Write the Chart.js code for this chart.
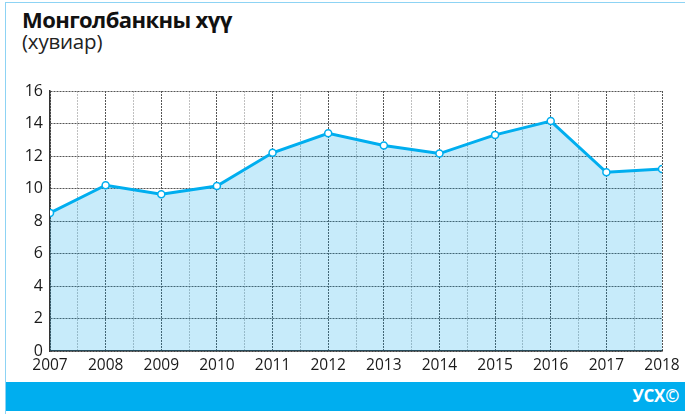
<!DOCTYPE html>
<html lang="mn">
<head>
<meta charset="UTF-8">
<title>Монголбанкны хүү</title>
<script src="https://cdn.jsdelivr.net/npm/chart.js@4.4.1/dist/chart.umd.min.js"></script>
<style>
  * { margin: 0; padding: 0; box-sizing: border-box; }
  body {
    width: 685px;
    height: 414px;
    background: #fff;
    overflow: hidden;
    position: relative;
    font-family: "Open Sans", sans-serif;
  }
  .frame {
    position: absolute;
    left: 5px; top: 2px; right: 0; bottom: 0;
    border-left: 1.5px solid #8dd3f4;
    border-top: 1.5px solid #8dd3f4;
  }
  .title {
    position: absolute;
    left: 22px; top: 4px;
    font-size: 22px; font-weight: 700; color: #111;
    letter-spacing: -0.6px;
  }
  .subtitle {
    position: absolute;
    left: 22px; top: 27px;
    font-size: 20.5px; color: #222;
    letter-spacing: -0.2px;
  }
  .footer {
    position: absolute;
    left: 6px; right: 0; top: 382px; height: 29px;
    background: #00aeef;
  }
  .footer span {
    position: absolute;
    right: 6px; top: 2px;
    color: #fff; font-weight: 700; font-size: 17px;
    letter-spacing: -0.3px;
  }
  canvas { position: absolute; left: 0; top: 0; }
</style>
</head>
<body>
  <div class="frame"></div>
  <div class="title">Монголбанкны хүү</div>
  <div class="subtitle">(хувиар)</div>
  <div class="footer"><span>УСХ©</span></div>
  <canvas id="chart" width="685" height="414"></canvas>
<script>
  const years = [2007, 2008, 2009, 2010, 2011, 2012, 2013, 2014, 2015, 2016, 2017, 2018];
  const rates = [8.5, 10.2, 9.65, 10.15, 12.2, 13.4, 12.65, 12.15, 13.3, 14.15, 11.0, 11.2];

  const points = years.map((y, i) => ({ x: y, y: rates[i] }));

  new Chart(document.getElementById("chart"), {
    type: "line",
    data: {
      datasets: [{
        data: points,
        borderColor: "#00aeef",
        borderWidth: 3,
        backgroundColor: "rgba(0,165,230,0.22)",
        fill: "origin",
        tension: 0,
        pointRadius: 3.5,
        pointBorderWidth: 1.5,
        pointBackgroundColor: "#fff",
        pointBorderColor: "#00aeef"
      }]
    },
    options: {
      responsive: false,
      animation: false,
      layout: { padding: { left: 0, right: 23, top: 91, bottom: 0 } },
      plugins: { legend: { display: false }, tooltip: { enabled: false } },
      scales: {
        x: {
          type: "linear",
          min: 2007,
          max: 2018,
          afterFit: s => { s.height = 63; },
          ticks: {
            stepSize: 0.5,
            autoSkip: false,
            maxRotation: 0,
            padding: 5,
            color: "#1a1a1a",
            font: { family: "Open Sans", size: 15.5 },
            callback: v => Number.isInteger(v) ? String(v) : ""
          },
          grid: {
            drawTicks: false,
            lineWidth: 1,
            color: c => Number.isInteger(c.tick.value) ? "#555" : "#c0c0c0"
          },
          border: { display: true, color: "#333", width: 1.5, dash: [2, 1] }
        },
        y: {
          min: 0,
          max: 16,
          afterFit: s => { s.width = 50; },
          ticks: {
            stepSize: 2,
            padding: 7,
            color: "#1a1a1a",
            font: { family: "Open Sans", size: 16 }
          },
          grid: { drawTicks: false, lineWidth: 1, color: "#555" },
          border: { display: true, color: "#333", width: 1.5, dash: [2, 1] }
        }
      }
    }
  });
</script>
</body>
</html>
